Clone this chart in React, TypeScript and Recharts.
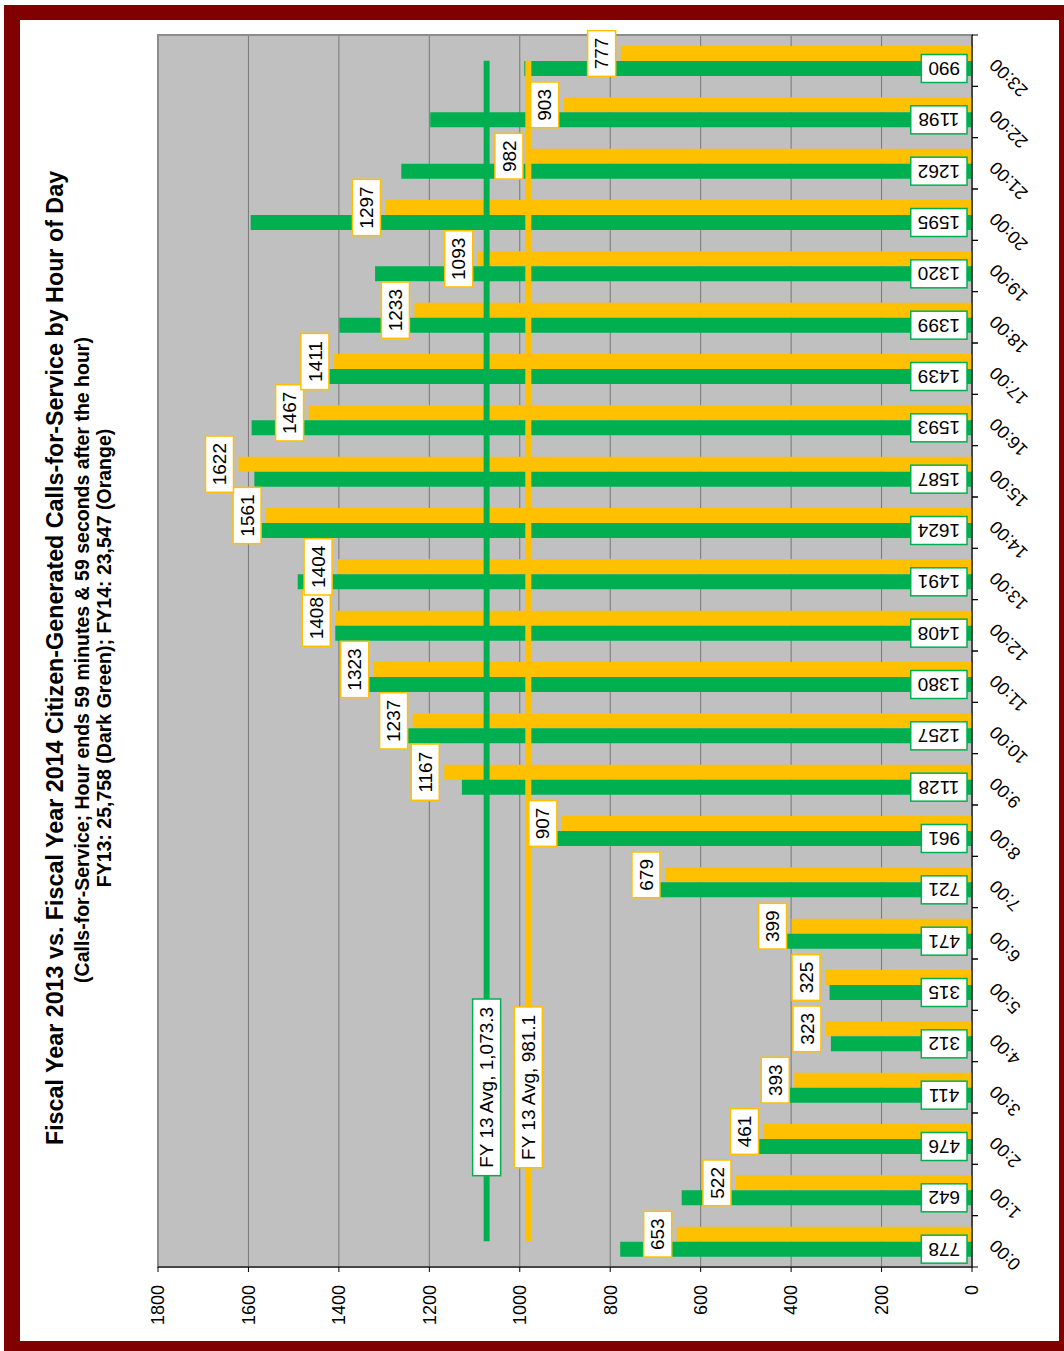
import React from 'react';
import {
  BarChart,
  Bar,
  XAxis,
  YAxis,
  CartesianGrid,
  ReferenceLine,
  ReferenceDot,
  ReferenceArea,
  LabelList,
} from 'recharts';

// Hour-of-day buckets (each bucket ends 59:59 after the hour)
const HOURS = [
  '0:00', '1:00', '2:00', '3:00', '4:00', '5:00', '6:00', '7:00',
  '8:00', '9:00', '10:00', '11:00', '12:00', '13:00', '14:00', '15:00',
  '16:00', '17:00', '18:00', '19:00', '20:00', '21:00', '22:00', '23:00',
];

// Citizen-generated calls-for-service, Fiscal Year 2013 (dark green)
const FY13_CALLS = [
  778, 642, 476, 411, 312, 315, 471, 721, 961, 1128, 1257, 1380,
  1408, 1491, 1624, 1587, 1593, 1439, 1399, 1320, 1595, 1262, 1198, 990,
];

// Citizen-generated calls-for-service, Fiscal Year 2014 (orange)
const FY14_CALLS = [
  653, 522, 461, 393, 323, 325, 399, 679, 907, 1167, 1237, 1323,
  1408, 1404, 1561, 1622, 1467, 1411, 1233, 1093, 1297, 982, 903, 777,
];

const VALUE_TICKS = [0, 200, 400, 600, 800, 1000, 1200, 1400, 1600, 1800];

// Hourly averages and their tags
const FY13_AVG = 1073.3;
const FY14_AVG = 981.1;
const FY13_AVG_LABEL = 'FY 13 Avg, 1,073.3';
const FY14_AVG_LABEL = 'FY 13 Avg, 981.1';
const AVG_LABEL_HOUR = '3:00';

const TITLE = 'Fiscal Year 2013 vs. Fiscal Year 2014 Citizen-Generated Calls-for-Service by Hour of Day';
const SUBTITLE_1 = '(Calls-for-Service; Hour ends 59 minutes & 59 seconds after the hour)';
const SUBTITLE_2 = 'FY13: 25,758 (Dark Green); FY14: 23,547 (Orange)';

const GREEN = '#00b050';
const ORANGE = '#ffc000';
const FRAME = '#800000';
const FONT = '"Liberation Sans", Arial, Helvetica, sans-serif';
const LABEL_FS = 19;

const data = HOURS.map((hour, i) => ({ hour, fy13: FY13_CALLS[i], fy14: FY14_CALLS[i] }));

// Arial-compatible advance widths (em) for the characters used in tags
const CHAR_W: Record<string, number> = {
  ',': 0.278, '.': 0.278, ' ': 0.278, F: 0.611, Y: 0.667, A: 0.667, v: 0.5, g: 0.556,
};
const textWidth = (s: string, fs: number) =>
  [...s].reduce((acc, c) => acc + (CHAR_W[c] ?? 0.556), 0) * fs;

const boxOf = (props: any) => {
  const vb = props.viewBox ?? props;
  const x = Number(vb.x);
  const y = Number(vb.y);
  const w = Number(vb.width);
  const h = Number(vb.height);
  return {
    left: Math.min(x, x + w),
    right: Math.max(x, x + w),
    cy: y + h / 2,
  };
};

// FY13 value tag sitting at the base of each green bar
const Fy13Tag = (props: any) => {
  const { right, cy } = boxOf(props);
  const text = String(props.value);
  const w = textWidth(text, LABEL_FS) + 14;
  const h = 28;
  const boxRight = right - 5;
  const tx = boxRight - w / 2;
  return (
    <g>
      <rect x={boxRight - w} y={cy - h / 2} width={w} height={h} fill="#fff" stroke={GREEN} strokeWidth={1.5} />
      <text
        x={tx}
        y={cy}
        dy="0.35em"
        textAnchor="middle"
        transform={`rotate(180, ${tx}, ${cy})`}
        fontSize={LABEL_FS}
        fontFamily={FONT}
        fill="#000"
      >
        {text}
      </text>
    </g>
  );
};

// FY14 value tag just past the end of each orange bar
const Fy14Tag = (props: any) => {
  const { left, cy } = boxOf(props);
  const text = String(props.value);
  const w = 28;
  const h = textWidth(text, LABEL_FS) + 14;
  const boxRight = left - 5;
  const tx = boxRight - w / 2;
  return (
    <g>
      <rect x={boxRight - w} y={cy - h / 2} width={w} height={h} fill="#fff" stroke={ORANGE} strokeWidth={1.5} />
      <text
        x={tx}
        y={cy}
        dy="0.35em"
        textAnchor="middle"
        transform={`rotate(-90, ${tx}, ${cy})`}
        fontSize={LABEL_FS}
        fontFamily={FONT}
        fill="#000"
      >
        {text}
      </text>
    </g>
  );
};

// Tag centred on an average line
const AvgTag = ({ cx, cy, text, color }: any) => {
  const w = 28;
  const h = textWidth(text, LABEL_FS) + 14;
  return (
    <g>
      <rect x={cx - w / 2} y={cy - h / 2} width={w} height={h} fill="#fff" stroke={color} strokeWidth={1.5} />
      <text
        x={cx}
        y={cy}
        dy="0.35em"
        textAnchor="middle"
        transform={`rotate(-90, ${cx}, ${cy})`}
        fontSize={LABEL_FS}
        fontFamily={FONT}
        fill="#000"
      >
        {text}
      </text>
    </g>
  );
};

// Hour labels, slanted, with tick marks on the band boundaries
const HourTick = (props: any) => {
  const { x, y, payload } = props;
  const half = typeof payload?.offset === 'number' && payload.offset > 0 ? payload.offset : 25.67;
  const ax = x + 25;
  const ay = y - 3;
  return (
    <g>
      <line x1={x} x2={x + 6} y1={y - half} y2={y - half} stroke="#000" />
      <line x1={x} x2={x + 6} y1={y + half} y2={y + half} stroke="#000" />
      <text
        x={ax}
        y={ay}
        textAnchor="end"
        transform={`rotate(-135, ${ax}, ${ay})`}
        fontSize={18}
        fontFamily={FONT}
        fill="#000"
      >
        {payload.value}
      </text>
    </g>
  );
};

const ValueTick = (props: any) => {
  const { x, y, payload } = props;
  return (
    <text
      x={x}
      y={y}
      dy="0.35em"
      textAnchor="end"
      transform={`rotate(-90, ${x}, ${y})`}
      fontSize={18}
      fontFamily={FONT}
      fill="#000"
    >
      {payload.value}
    </text>
  );
};

export default function App() {
  return (
    <div
      style={{
        position: 'absolute',
        left: 0,
        top: 0,
        width: 1064,
        height: 1351,
        background: '#fff',
        fontFamily: FONT,
        overflow: 'hidden',
      }}
    >
      <div
        style={{
          position: 'absolute',
          left: 4,
          top: 5,
          width: 1060,
          height: 1346,
          boxSizing: 'border-box',
          borderStyle: 'solid',
          borderColor: FRAME,
          borderWidth: '15px 5px 10px 16px',
        }}
      />
      <div style={{ position: 'absolute', left: 0, top: 0 }}>
        <BarChart
          width={1064}
          height={1351}
          data={data}
          layout="vertical"
          margin={{ top: 35, right: 32, bottom: 24, left: 158 }}
          barGap={0}
        >
          <CartesianGrid
            horizontal={false}
            vertical
            fill="#c0c0c0"
            fillOpacity={1}
            stroke="#777777"
            strokeWidth={1}
          />
          <ReferenceArea x1={0} x2={1800} fill="none" stroke="#8c8c8c" strokeWidth={2} ifOverflow="visible" />
          <XAxis
            type="number"
            domain={[0, 1800]}
            ticks={VALUE_TICKS}
            reversed
            interval={0}
            height={60}
            stroke="#000"
            tickSize={5}
            tickMargin={13}
            tick={<ValueTick />}
          />
          <YAxis
            type="category"
            dataKey="hour"
            orientation="right"
            reversed
            interval={0}
            width={60}
            stroke="#000"
            tickLine={false}
            tickSize={0}
            tickMargin={0}
            tick={<HourTick />}
          />
          <Bar dataKey="fy14" fill={ORANGE} barSize={15} isAnimationActive={false}>
            <LabelList dataKey="fy14" content={<Fy14Tag />} />
          </Bar>
          <Bar dataKey="fy13" fill={GREEN} barSize={15} isAnimationActive={false}>
            <LabelList dataKey="fy13" content={<Fy13Tag />} />
          </Bar>
          <ReferenceLine
            segment={[
              { x: FY13_AVG, y: HOURS[0] },
              { x: FY13_AVG, y: HOURS[HOURS.length - 1] },
            ]}
            stroke={GREEN}
            strokeWidth={6}
          />
          <ReferenceLine
            segment={[
              { x: FY14_AVG, y: HOURS[0] },
              { x: FY14_AVG, y: HOURS[HOURS.length - 1] },
            ]}
            stroke={ORANGE}
            strokeWidth={6}
          />
          <ReferenceDot
            x={FY13_AVG}
            y={AVG_LABEL_HOUR}
            shape={(p: any) => <AvgTag cx={p.cx} cy={p.cy} text={FY13_AVG_LABEL} color={GREEN} />}
          />
          <ReferenceDot
            x={FY14_AVG}
            y={AVG_LABEL_HOUR}
            shape={(p: any) => <AvgTag cx={p.cx} cy={p.cy} text={FY14_AVG_LABEL} color={ORANGE} />}
          />
        </BarChart>
      </div>
      <svg
        width={1064}
        height={1351}
        style={{ position: 'absolute', left: 0, top: 0, pointerEvents: 'none' }}
      >
        <text
          transform="translate(63, 658) rotate(-90)"
          textAnchor="middle"
          fontSize={23.3}
          fontWeight="bold"
          fontFamily={FONT}
          fill="#000"
        >
          {TITLE}
        </text>
        <text
          transform="translate(88.5, 660) rotate(-90)"
          textAnchor="middle"
          fontSize={19.5}
          fontWeight="bold"
          fontFamily={FONT}
          fill="#000"
        >
          {SUBTITLE_1}
        </text>
        <text
          transform="translate(110.5, 658) rotate(-90)"
          textAnchor="middle"
          fontSize={19.5}
          fontWeight="bold"
          fontFamily={FONT}
          fill="#000"
        >
          {SUBTITLE_2}
        </text>
      </svg>
    </div>
  );
}
